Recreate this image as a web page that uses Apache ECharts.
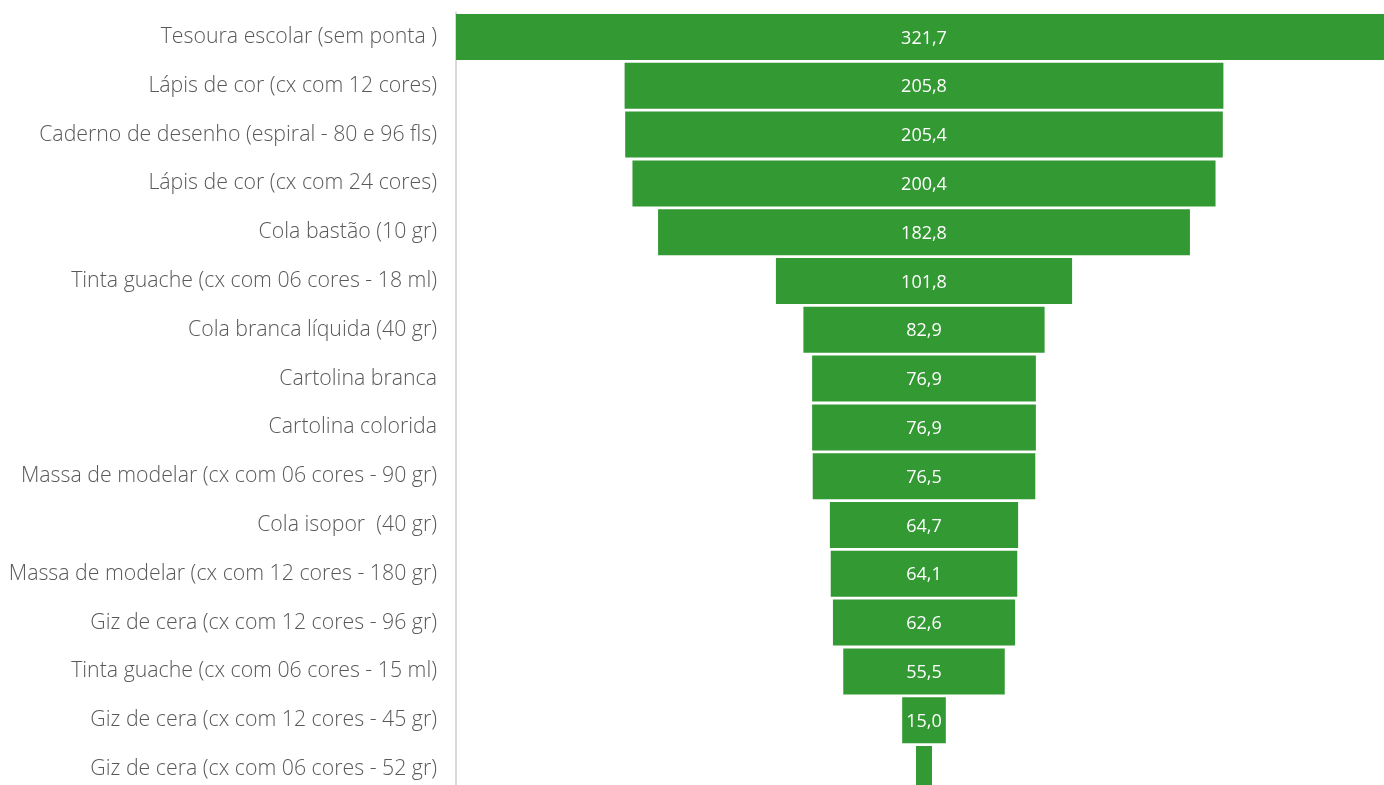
<!DOCTYPE html>
<html><head><meta charset="utf-8">
<script src="https://cdn.jsdelivr.net/npm/echarts@6/dist/echarts.min.js"></script>
<style>html,body{margin:0;padding:0;background:#fff}#c{width:1384px;height:785px}</style>
</head><body><div id="c"></div>
<script>
const categories = [
  "Tesoura escolar (sem ponta )",
  "Lápis de cor (cx com 12 cores)",
  "Caderno de desenho (espiral - 80 e 96 fls)",
  "Lápis de cor (cx com 24 cores)",
  "Cola bastão (10 gr)",
  "Tinta guache (cx com 06 cores - 18 ml)",
  "Cola branca líquida (40 gr)",
  "Cartolina branca",
  "Cartolina colorida",
  "Massa de modelar (cx com 06 cores - 90 gr)",
  "Cola isopor  (40 gr)",
  "Massa de modelar (cx com 12 cores - 180 gr)",
  "Giz de cera (cx com 12 cores - 96 gr)",
  "Tinta guache (cx com 06 cores - 15 ml)",
  "Giz de cera (cx com 12 cores - 45 gr)",
  "Giz de cera (cx com 06 cores - 52 gr)"
];
const values = [321.7, 205.8, 205.4, 200.4, 182.8, 101.8, 82.9, 76.9, 76.9, 76.5, 64.7, 64.1, 62.6, 55.5, 15.0, 5.5];

const maxV = Math.max(...values);
const offsets = values.map(v => (maxV - v) / 2);

const chart = echarts.init(document.getElementById('c'));
chart.setOption({
  animation: false,
  grid: { left: 456, top: 12.6, width: 936, height: 780.8, containLabel: false, outerBoundsMode: 'none' },
  xAxis: { type: 'value', min: 0, max: maxV, show: false },
  yAxis: {
    type: 'category', data: categories, inverse: true,
    axisLine: { show: true, lineStyle: { color: '#d9d9d9', width: 2 } },
    axisTick: { show: false },
    axisLabel: { color: '#595959', fontSize: 21.3, fontFamily: 'Open Sans', fontWeight: 300, margin: 19, padding: [4, 0, 0, 0] }
  },
  series: [
    { type: 'bar', stack: 's', data: offsets, itemStyle: { color: 'transparent' }, barWidth: 46, silent: true },
    { type: 'bar', stack: 's', data: values, barWidth: 46,
      itemStyle: { color: '#339933' },
      label: { show: true, position: 'inside', offset: [0, 1.5], color: '#ffffff', fontSize: 18, fontFamily: 'Open Sans',
        formatter: p => p.value < 10 ? '' : p.value.toFixed(1).replace('.', ',') } }
  ]
});
</script></body></html>
